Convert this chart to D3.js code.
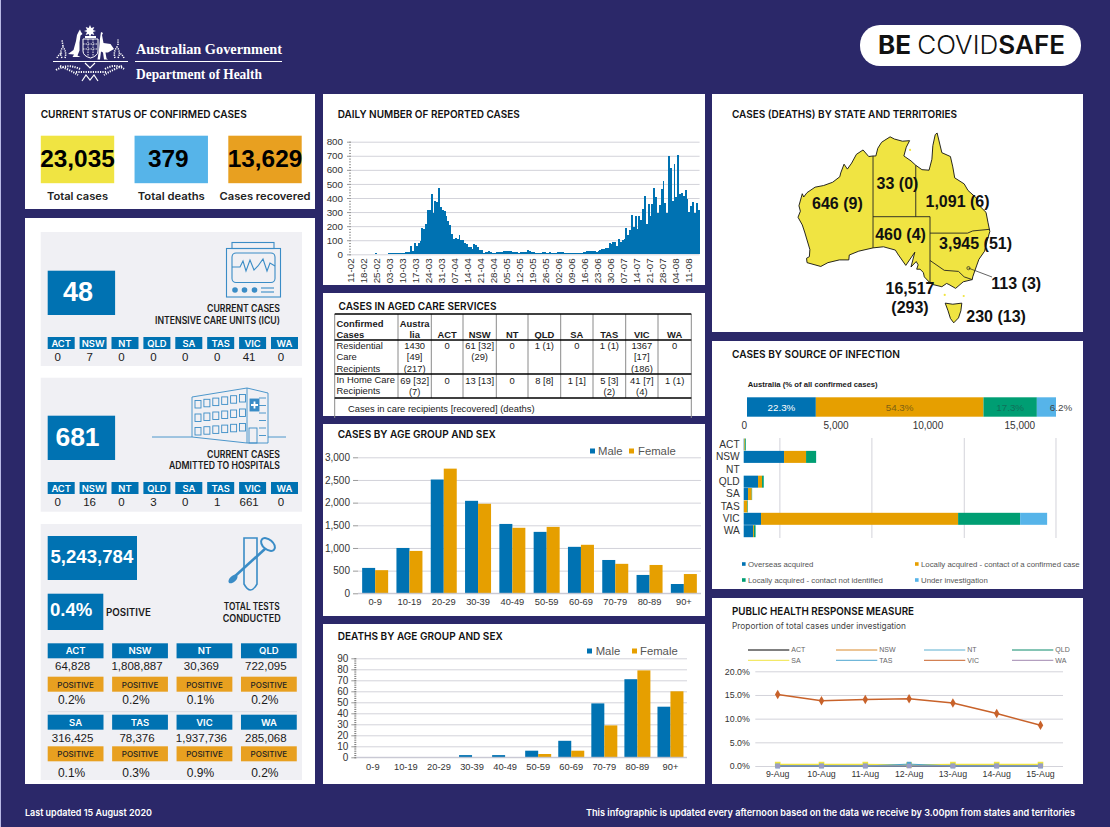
<!DOCTYPE html>
<html>
<head>
<meta charset="utf-8">
<title>COVID-19 infographic</title>
<script src="https://cdn.jsdelivr.net/npm/d3@7"></script>
<style>
html, body { margin: 0; padding: 0; background: #2b2869; }
svg { display: block; }
.axis path { display: none; }
.axis text { font-family: "Liberation Sans", Arial, sans-serif; fill: #333; }
.grid path { display: none; }
.grid line { stroke: #d3d3da; }
</style>
</head>
<body>
<div id="chart"></div>
<script>
"use strict";

// ---- data ----
var states = ["ACT", "NSW", "NT", "QLD", "SA", "TAS", "VIC", "WA"];

var statusLabels = ["Total cases", "Total deaths", "Cases recovered"];
var statusValues = ["23,035", "379", "13,629"];

var icuValues = [0, 7, 0, 0, 0, 0, 41, 0];
var hospitalValues = [0, 16, 0, 3, 0, 1, 661, 0];
var testValues = ["64,828", "1,808,887", "30,369", "722,095", "316,425", "78,376", "1,937,736", "285,068"];
var testPositive = ["0.2%", "0.2%", "0.1%", "0.2%", "0.1%", "0.3%", "0.9%", "0.2%"];

// daily reported cases, month by month, starting 11 Feb
var dailyFeb = [0, 0, 0, 0, 0, 0, 0, 0, 0, 0, 0, 0, 0, 8, 0, 0, 0, 1, 1];
var dailyMar = [3, 8, 8, 8, 9, 8, 8, 9, 10, 12, 14, 15, 16, 60, 20, 80, 62, 80, 95, 188, 180, 215, 318, 318, 430, 295, 380, 375, 472, 335, 315];
var dailyApr = [310, 270, 235, 205, 145, 112, 118, 110, 135, 103, 103, 80, 70, 50, 52, 35, 72, 65, 52, 30, 30, 8, 18, 18, 22, 18, 12, 10, 14, 14];
var dailyMay = [15, 18, 20, 22, 25, 25, 22, 18, 15, 14, 12, 14, 16, 14, 18, 30, 26, 18, 14, 10, 12, 8, 8, 16, 16, 12, 10, 14, 12, 10, 8];
var dailyJun = [18, 15, 13, 15, 12, 10, 10, 9, 8, 9, 8, 10, 12, 10, 16, 18, 22, 24, 22, 26, 22, 18, 24, 28, 36, 38, 42, 44, 80, 70];
var dailyJul = [85, 85, 60, 110, 90, 105, 110, 188, 140, 175, 280, 195, 272, 180, 272, 245, 325, 415, 215, 358, 275, 358, 470, 410, 295, 350, 465, 520, 365, 295, 695];
var dailyAug = [610, 380, 640, 410, 703, 430, 438, 415, 458, 390, 300, 345, 372, 295, 368, 315];

var agedHeader = ["Austra\nlia", "ACT", "NSW", "NT", "QLD", "SA", "TAS", "VIC", "WA"];
var agedResidential = ["1430\n[49]\n(217)", "0", "61 [32]\n(29)", "0", "1 (1)", "0", "1 (1)", "1367\n[17]\n(186)", "0"];
var agedHomeCare = ["69 [32]\n(7)", "0", "13 [13]", "0", "8 [8]", "1 [1]", "5 [3]\n(2)", "41 [7]\n(4)", "1 (1)"];

var ageGroups = ["0-9", "10-19", "20-29", "30-39", "40-49", "50-59", "60-69", "70-79", "80-89", "90+"];
var casesMale = [560, 1000, 2510, 2040, 1530, 1355, 1025, 735, 405, 205];
var casesFemale = [510, 935, 2750, 1975, 1445, 1465, 1070, 650, 625, 425];
var deathsMale = [0, 0, 0, 2, 2, 6, 15, 49, 71, 46];
var deathsFemale = [0, 0, 0, 0, 0, 3, 6, 29, 79, 60];

var sourceLabels = ["Overseas acquired", "Locally acquired - contact of a confirmed case", "Locally acquired - contact not identified", "Under investigation"];
var sourceShare = [22.3, 54.3, 17.3, 6.2];
var sourceOverseas = [20, 2196, 0, 780, 236, 10, 944, 508];
var sourceContact = [40, 1198, 0, 218, 200, 190, 10725, 50];
var sourceUnknown = [53, 545, 0, 93, 20, 30, 3376, 88];
var sourceInvestigation = [0, 6, 0, 0, 4, 0, 1470, 0];

var responseDays = ["9-Aug", "10-Aug", "11-Aug", "12-Aug", "13-Aug", "14-Aug", "15-Aug"];
var responseAct = [0, 0, 0, 0, 0, 0, 0];
var responseNsw = [0.1, 0.1, 0.1, 0.1, 0.1, 0.1, 0.1];
var responseNt = [0, 0, 0, 0, 0, 0, 0];
var responseQld = [0.1, 0.1, 0, 0.1, 0.1, 0, 0];
var responseSa = [0.3, 0.3, 0.3, 0.2, 0.3, 0.3, 0.3];
var responseTas = [0, 0, 0, 0.4, 0, 0, 0];
var responseVic = [15.1, 13.8, 14.05, 14.2, 13.3, 11.1, 8.6];
var responseWa = [0, 0, 0, 0, 0, 0, 0];

var mapLabels = [["646 (9)", 121.5, -24.6], ["33 (0)", 134.15, -21], ["1,091 (6)", 146.8, -24.2], ["460 (4)", 134.8, -30.3], ["3,945 (51)", 150.6, -31.9]];

// coastline, longitude / latitude
var mainland = [[142.5, -10.7], [143.5, -14.3], [145.3, -15], [145.8, -16.9], [146.2, -18.9], [148.2, -20], [149, -21.2], [150.8, -22.6], [150.8, -23.5], [152.8, -25.2], [153.2, -27], [153.6, -28.7], [153, -30.5], [152.5, -32.3], [151.3, -33.8], [150.8, -35], [150, -37], [149.9, -37.5], [148, -37.9], [146.4, -39.1], [145, -38.4], [144.5, -38.2], [143.5, -38.8], [141.6, -38.4], [140.9, -38], [139.8, -37], [139.6, -36.2], [138.9, -35.6], [138.2, -35.6], [138.5, -34.8], [138.1, -34.2], [137, -35.2], [137.8, -32.5], [135.9, -34.9], [134.2, -32.8], [133.7, -32.1], [131.2, -31.5], [129, -31.7], [126, -32.3], [124, -33], [123.9, -33.9], [121.9, -33.9], [119.5, -34.4], [118, -35.1], [115.1, -34.4], [115, -33.6], [115.6, -33.3], [115.7, -32], [114.6, -28.8], [114.1, -27.5], [113.2, -26.1], [113.7, -25], [113.4, -24], [114.1, -21.8], [114.4, -22.4], [115.1, -21.6], [116.8, -20.6], [118.6, -20.3], [120.5, -19.7], [122, -18.7], [122.2, -18], [122.9, -16.4], [123.6, -17.3], [124.5, -16.2], [125.5, -14.6], [126.9, -13.8], [128.1, -15], [129, -14.9], [129.6, -14.9], [130, -13.5], [130.8, -12.4], [131.5, -12], [132.6, -11.4], [133.5, -11.8], [135.2, -12.2], [136.7, -12.1], [136, -13.3], [135.5, -14.9], [137, -15.8], [138, -16.6], [139.3, -17.4], [140.8, -17.5], [141.4, -15.5], [141.6, -13], [142.1, -11], [142.5, -10.7]];
// Tasmania sits a little lower in the picture than the true latitude
var tasmania = [[144.2, -41.8], [145.8, -42], [147.7, -41.8], [147.5, -43.2], [147, -44.5], [146, -45.4], [145.3, -44.6], [144.8, -43.2], [144.2, -41.8]];
var borders = [
    [[129, -14.9], [129, -31.7]],
    [[129, -26], [141, -26], [141, -38.05]],
    [[138, -16.6], [138, -26]],
    [[141, -29], [148.9, -29], [150, -28.6], [153.6, -28.3]],
    [[141, -34], [144, -35.8], [147, -36], [148.2, -37], [149.9, -37.5]]
];
var islands = [[144.1, -40.3], [148.1, -40.5], [136.8, -13.8]];
var actSpot = [149.1, -35.4];

// ---- page ----
var navy = "#2b2869", blue = "#0072B2", orange = "#E69F00", green = "#009E73", sky = "#56B4E9", yellow = "#F0E442";
var chipOrange = "#E8A020", iconBlue = "#3a8cc6", panelGrey = "#f0f0f4";
var sans = '"Liberation Sans", Arial, sans-serif';
var heading = 'Inter, "Noto Sans", sans-serif';

var svg = d3.select("#chart").append("svg")
    .attr("width", 1110)
    .attr("height", 827);

svg.append("rect").attr("width", 1110).attr("height", 827).attr("fill", navy);
svg.append("rect").attr("width", 1).attr("height", 827).attr("fill", "#b9b9e6");

function box(x, y, w, h, fill) {
    return svg.append("rect").attr("x", x).attr("y", y).attr("width", w).attr("height", h).attr("fill", fill);
}

function label(x, y, str, size, opts) {
    opts = opts || {};
    var t = svg.append("text")
        .attr("x", x)
        .attr("y", y)
        .attr("font-family", opts.family || sans)
        .attr("font-size", size)
        .attr("font-weight", opts.weight || "normal")
        .attr("text-anchor", opts.anchor || "start")
        .attr("fill", opts.fill || "#1a1a1a")
        .text(str);
    if (opts.width) {
        t.attr("textLength", opts.width).attr("lengthAdjust", "spacingAndGlyphs");
    }
    return t;
}

//the panel headings, stretched to the width they have in the picture
function title(x, y, str, width) {
    label(x, y, str, 10.5, { family: heading, weight: 600, fill: "#111", width: width });
}

// white panels
[[25, 94, 290, 115], [25, 218, 290, 566], [323, 94, 382, 191], [323, 293, 382, 123], [323, 424, 382, 192], [323, 624, 382, 160], [712, 94, 371, 238], [712, 341, 371, 248], [712, 598, 371, 186]].forEach(function (p) {
    box(p[0], p[1], p[2], p[3], "#fff");
});

// ---- header ----
drawCrest(svg.append("g"));
label(136, 54, "Australian Government", 15.2, { family: '"Liberation Serif", serif', weight: "bold", fill: "#fff", width: 146 });
svg.append("line").attr("x1", 135).attr("x2", 282).attr("y1", 61.5).attr("y2", 61.5).attr("stroke", "#fff");
label(136, 79, "Department of Health", 14.4, { family: '"Liberation Serif", serif', weight: "bold", fill: "#fff", width: 126 });

svg.append("rect").attr("x", 860).attr("y", 25).attr("width", 221).attr("height", 41).attr("rx", 20).attr("fill", "#fff");
var badge = label(878, 54, "BE ", 25, { family: heading, weight: 700, fill: "#111" });
badge.append("tspan").attr("font-weight", 300).text("COVID");
badge.append("tspan").attr("font-weight", 600).text("SAFE");
badge.attr("textLength", 187).attr("lengthAdjust", "spacingAndGlyphs");

label(25, 816, "Last updated 15 August 2020", 9.5, { family: heading, weight: 600, fill: "#fff", width: 127 });
label(586, 816, "This infographic is updated every afternoon based on the data we receive by 3.00pm from states and territories", 9.5, { family: heading, weight: 600, fill: "#fff", width: 489 });

// ---- current status ----
title(40.7, 117.5, "CURRENT STATUS OF CONFIRMED CASES", 206);
var statusX = d3.scalePoint().domain(statusLabels).range([77.5, 265]);
var statusFill = [yellow, sky, chipOrange];
var statusWidths = [61, 67, 91];
statusLabels.forEach(function (name, i) {
    var cx = statusX(name);
    box(cx - 36.7, 135.7, 73.4, 47.5, statusFill[i]);
    label(i == 1 ? cx - 3 : cx, 167, statusValues[i], 24.4, { weight: "bold", anchor: "middle", fill: "#000" });
    label(cx, 199.5, name, 10.6, { family: heading, weight: 600, anchor: "middle", fill: "#222", width: statusWidths[i] });
});

// ---- left column ----
box(40.7, 232, 261.3, 134, panelGrey);
box(40.7, 377.7, 261.3, 134, panelGrey);
box(40.7, 524, 261.3, 256, panelGrey);

box(47.7, 270.7, 67.4, 44.3, blue);
label(78, 300.5, "48", 27, { weight: "bold", anchor: "middle", fill: "#fff" });
box(47.7, 415.7, 67.4, 44.3, blue);
label(77.5, 445.5, "681", 26.5, { weight: "bold", anchor: "middle", fill: "#fff" });

label(280, 312, "CURRENT CASES", 9.8, { family: heading, weight: 600, anchor: "end", width: 73 });
label(280, 323.5, "INTENSIVE CARE UNITS (ICU)", 9.8, { family: heading, weight: 600, anchor: "end", width: 125 });
label(280, 457.5, "CURRENT CASES", 9.8, { family: heading, weight: 600, anchor: "end", width: 73 });
label(280, 469, "ADMITTED TO HOSPITALS", 9.8, { family: heading, weight: 600, anchor: "end", width: 111 });

var chipX = d3.scaleBand().domain(states).range([47.7, 302.9]);

function stateChips(values, chipY, valueY) {
    states.forEach(function (s, i) {
        var x = chipX(s), w = 27;
        box(x, chipY, w, 12, blue);
        label(x + w / 2, chipY + 9.8, s, 9.4, { family: heading, weight: 600, anchor: "middle", fill: "#fff" });
        label(x + w / 2 - 3.5, valueY, values[i], 11.5, { anchor: "middle" });
    });
}
stateChips(icuValues, 337, 361);
stateChips(hospitalValues, 482, 505.5);

drawMonitor(svg.append("g"));
drawHospital(svg.append("g"));
drawSwab(svg.append("g"));

box(47.7, 536, 89.3, 44, blue);
label(50.5, 562.5, "5,243,784", 18.6, { weight: "bold", fill: "#fff" });
box(47.7, 593.7, 55.6, 36.3, blue);
label(50, 616, "0.4%", 18.6, { weight: "bold", fill: "#fff" });
label(106, 616, "POSITIVE", 9.8, { family: heading, weight: 600, width: 45 });
label(251.7, 610, "TOTAL TESTS", 9.8, { family: heading, weight: 600, anchor: "middle", width: 56 });
label(251.7, 621.5, "CONDUCTED", 9.8, { family: heading, weight: 600, anchor: "middle", width: 58 });

var testX = d3.scaleBand().domain([0, 1, 2, 3]).range([47.7, 305.4]);
var testRows = [[643.3, 670, 676.7, 704], [714.7, 742, 746.3, 776.7]];
states.forEach(function (s, i) {
    var row = testRows[Math.floor(i / 4)];
    var x = testX(i % 4), w = 55.8, cx = x + w / 2;
    box(x, row[0], w, 15, blue);
    label(cx, row[0] + 11, s, 9.5, { family: heading, weight: 600, anchor: "middle", fill: "#fff" });
    label(cx - 3, row[1], testValues[i], 11.5, { anchor: "middle" });
    box(x, row[2], w, 15, chipOrange);
    label(cx, row[2] + 10.8, "POSITIVE", 8, { family: heading, weight: 500, anchor: "middle", fill: "#222" });
    label(cx - 4, row[3], testPositive[i], 12, { anchor: "middle" });
});
svg.append("line").attr("x1", 47.7).attr("x2", 297).attr("y1", 711.7).attr("y2", 711.7).attr("stroke", "#dcdce2");

// ---- daily cases ----
title(337.7, 117.5, "DAILY NUMBER OF REPORTED CASES", 182);

var dailyValues = dailyFeb.concat(dailyMar, dailyApr, dailyMay, dailyJun, dailyJul, dailyAug);
var dailyDates = d3.timeDay.range(new Date(2020, 1, 11), new Date(2020, 7, 17));

var dailyXScale = d3.scaleBand().domain(dailyDates).range([351, 699.6]);
var dailyYScale = d3.scaleLinear().domain([0, 800]).range([254.3, 141.7]);

gridFor(svg, dailyYScale, d3.range(0, 801, 100), 351, 699.6);

svg.append("g").selectAll("rect")
    .data(dailyValues)
    .enter().append("rect")
    .attr("x", function (d, i) { return dailyXScale(dailyDates[i]); })
    .attr("y", function (d) { return dailyYScale(d); })
    .attr("width", dailyXScale.bandwidth())
    .attr("height", function (d) { return dailyYScale(0) - dailyYScale(d); })
    .attr("fill", blue)
    .attr("shape-rendering", "crispEdges");

//minor ticks first so the labelled ones land on top
svg.append("g").attr("transform", "translate(351,0)")
    .call(d3.axisLeft(dailyYScale).tickValues(d3.range(0, 801, 20)).tickSize(2).tickFormat(""))
    .call(function (g) { g.select("path").remove(); g.selectAll("line").attr("stroke", "#9a9a9a"); });
var dailyAxis = svg.append("g").attr("class", "axis").attr("transform", "translate(351,0)")
    .call(d3.axisLeft(dailyYScale).tickValues(d3.range(0, 801, 100)).tickSize(4).tickPadding(4));
dailyAxis.selectAll("line").attr("stroke", "#9a9a9a");
dailyAxis.selectAll("text").attr("font-size", 9.8);

var dayFormat = d3.timeFormat("%d-%m");
var dailyXAxis = svg.append("g").attr("class", "axis").attr("transform", "translate(0,254.3)")
    .call(d3.axisBottom(dailyXScale).tickValues(dailyDates.filter(function (d, i) { return i % 7 == 0; })).tickSize(0).tickFormat(dayFormat));
dailyXAxis.selectAll("text")
    .attr("font-size", 9.8)
    .attr("text-anchor", "end")
    .attr("transform", "rotate(-90)")
    .attr("x", -4)
    .attr("y", -1)
    .attr("dy", "0.32em");

// ---- aged care table ----
label(338.5, 309.5, "CASES IN AGED CARE SERVICES", 10.5, { family: heading, weight: 600, fill: "#111", width: 158 });

var columnEdges = [334.7, 398, 431.3, 463, 496.3, 528, 560.7, 593, 625.7, 658, 691.3];
columnEdges.forEach(function (x, i) {
    var outer = i == 0 || i == columnEdges.length - 1;
    svg.append("line").attr("x1", x).attr("x2", x).attr("y1", 314).attr("y2", outer ? 418 : 398).attr("stroke", "#8a8a8a").attr("stroke-width", 1);
});
[314, 340, 374, 398].forEach(function (y) {
    svg.append("line").attr("x1", 334.7).attr("x2", 691.3).attr("y1", y).attr("y2", y).attr("stroke", "#000").attr("stroke-width", 1.6);
});

function cellLines(x, y, str, opts) {
    str.split("\n").forEach(function (line, i) {
        label(x, y + i * 11.3, line, 9.4, opts);
    });
}
cellLines(336.5, 326.7, "Confirmed\nCases", { weight: "bold" });
cellLines(336.5, 349, "Residential\nCare\nRecipients");
cellLines(336.5, 383, "In Home Care\nRecipients");
agedHeader.forEach(function (h, i) {
    var cx = (columnEdges[i + 1] + columnEdges[i + 2]) / 2;
    if (i == 8) cx = (columnEdges[9] + columnEdges[10]) / 2;
    cellLines(cx, i == 0 ? 326.7 : 337.7, h, { weight: "bold", anchor: "middle" });
    cellLines(cx, 349, agedResidential[i], { anchor: "middle" });
    cellLines(cx, 384, agedHomeCare[i], { anchor: "middle" });
});
label(348, 411.5, "Cases in care recipients [recovered] (deaths)", 9.4, {});

// ---- age and sex bars ----
title(337.7, 437.7, "CASES BY AGE GROUP AND SEX", 158);
ageBars(casesMale, casesFemale, d3.scaleLinear().domain([0, 3000]).range([593.3, 457.3]), d3.range(0, 3001, 500), 358, 701, 606, d3.format(","));
sexLegend(590, 598, 629, 638, 451, 455);

title(337.7, 640, "DEATHS BY AGE GROUP AND SEX", 165);
var deathAxisY = d3.scaleLinear().domain([0, 90]).range([757.3, 658.3]);
ageBars(deathsMale, deathsFemale, deathAxisY, d3.range(0, 91, 10), 356.3, 687, 771.5, d3.format("d"));
svg.append("g").attr("transform", "translate(356.3,0)")
    .call(d3.axisLeft(deathAxisY).tickValues(d3.range(0, 91, 2)).tickSize(2).tickFormat(""))
    .call(function (g) { g.select("path").remove(); g.selectAll("line").attr("stroke", "#777"); });
sexLegend(587, 595.7, 632, 640, 651, 654.5);

function ageBars(male, female, y, ticks, left, right, labelY, fmt) {
    gridFor(svg, y, ticks, left, right);
    var x0 = d3.scaleBand().domain(ageGroups).range([left, right]);
    var x1 = d3.scaleBand().domain(["m", "f"]).range([0, 26]);
    var offset = (x0.bandwidth() - 26) / 2;
    [[male, "m", blue], [female, "f", orange]].forEach(function (s) {
        svg.append("g").selectAll("rect")
            .data(s[0])
            .enter().append("rect")
            .attr("x", function (d, i) { return x0(ageGroups[i]) + offset + x1(s[1]); })
            .attr("y", function (d) { return y(d); })
            .attr("width", x1.bandwidth())
            .attr("height", function (d) { return y(0) - y(d); })
            .attr("fill", s[2]);
    });
    var yAxis = svg.append("g").attr("class", "axis").attr("transform", "translate(" + left + ",0)")
        .call(d3.axisLeft(y).tickValues(ticks).tickSize(5).tickPadding(3).tickFormat(fmt));
    yAxis.selectAll("line").attr("stroke", "#999");
    yAxis.selectAll("text").attr("font-size", 10);
    var xAxis = svg.append("g").attr("class", "axis").attr("transform", "translate(0," + y(0) + ")")
        .call(d3.axisBottom(x0).tickSize(0).tickPadding(labelY - y(0) - 8));
    xAxis.selectAll("text").attr("font-size", 9.3);
    svg.append("line").attr("x1", left).attr("x2", right).attr("y1", y(0)).attr("y2", y(0)).attr("stroke", "#c4c4d0");
}

function sexLegend(mx, mt, fx, ft, sy, ty) {
    box(mx, sy - 2.5, 5, 5, blue);
    label(mt, ty, "Male", 11.3, { fill: "#555" });
    box(fx, sy - 2.5, 5, 5, orange);
    label(ft, ty, "Female", 11.3, { fill: "#555" });
}

function gridFor(parent, y, ticks, left, right) {
    parent.append("g").attr("class", "grid").attr("transform", "translate(" + left + ",0)")
        .call(d3.axisLeft(y).tickValues(ticks).tickSize(left - right).tickFormat(""));
}

// ---- map ----
title(732, 117.5, "CASES (DEATHS) BY STATE AND TERRITORIES", 225);

var lonScale = d3.scaleLinear().domain([113.2, 141]).range([798, 930]);
var latScale = d3.scaleLinear().domain([-10.7, -26]).range([133, 216.7]);
var mapProjection = d3.geoTransform({
    point: function (lon, lat) { this.stream.point(lonScale(lon), latScale(lat)); }
});
var mapPath = d3.geoPath(mapProjection);

[mainland, tasmania].forEach(function (ring) {
    svg.append("path")
        .datum({ type: "Polygon", coordinates: [ring] })
        .attr("d", mapPath)
        .attr("fill", yellow)
        .attr("stroke", "#111")
        .attr("stroke-width", 0.9)
        .attr("stroke-linejoin", "round");
});
borders.forEach(function (line) {
    svg.append("path")
        .datum({ type: "LineString", coordinates: line })
        .attr("d", mapPath)
        .attr("fill", "none")
        .attr("stroke", "#222")
        .attr("stroke-width", 0.9);
});
islands.forEach(function (p) {
    svg.append("circle").attr("cx", lonScale(p[0])).attr("cy", latScale(p[1])).attr("r", 1.1).attr("fill", yellow);
});
svg.append("circle").attr("cx", lonScale(actSpot[0])).attr("cy", latScale(actSpot[1])).attr("r", 1.6).attr("fill", "none").attr("stroke", "#222").attr("stroke-width", 0.7);
svg.append("line").attr("x1", lonScale(actSpot[0])).attr("y1", latScale(actSpot[1])).attr("x2", 992).attr("y2", 277).attr("stroke", "#222").attr("stroke-width", 0.7);

mapLabels.forEach(function (d) {
    label(lonScale(d[1]), latScale(d[2]), d[0], 16, { weight: "bold", anchor: "middle", fill: "#111" });
});
label(991.3, 289, "113 (3)", 16, { weight: "bold", fill: "#111" });
label(910, 294, "16,517", 16, { weight: "bold", anchor: "middle", fill: "#111" });
label(910, 313, "(293)", 16, { weight: "bold", anchor: "middle", fill: "#111" });
label(966.3, 321.7, "230 (13)", 16, { weight: "bold", fill: "#111" });

// ---- source of infection ----
title(732, 358, "CASES BY SOURCE OF INFECTION", 168);
label(747.7, 386.7, "Australia (% of all confirmed cases)", 8, { weight: "bold", width: 130 });

var shareScale = d3.scaleLinear().domain([0, d3.sum(sourceShare)]).range([747, 1056]);
var shareFill = [blue, orange, green, sky];
var shareText = ["#fff", "#7d5f14", "#11705a", "#444"];
var shareLeft = 0;
sourceShare.forEach(function (v, i) {
    box(shareScale(shareLeft), 397.3, shareScale(v) - shareScale(0), 19.4, shareFill[i]);
    var cx = i == 3 ? 1061 : shareScale(shareLeft + v / 2);
    label(cx, 410.5, v.toFixed(1) + "%", 9.8, { anchor: "middle", fill: shareText[i] });
    shareLeft += v;
});

var sourceX = d3.scaleLinear().domain([0, 15000]).range([743.7, 1019.3]);
var sourceY = d3.scaleBand().domain(states).range([438.5, 537.2]).paddingInner(0.03);

//the gridlines in the original sit off the labelled ticks
svg.append("g").attr("class", "grid").attr("transform", "translate(0,538)")
    .call(d3.axisBottom(sourceX).tickValues([1942, 6950, 11978, 16970]).tickSize(-100).tickFormat(""));

var sourceTop = svg.append("g").attr("class", "axis").attr("transform", "translate(0,419)")
    .call(d3.axisBottom(sourceX).tickValues([0, 5000, 10000, 15000]).tickSize(0).tickPadding(3).tickFormat(d3.format(",")));
sourceTop.selectAll("text").attr("font-size", 10);

var sourceRows = states.map(function (s, i) {
    return { state: s, a: sourceOverseas[i], b: sourceContact[i], c: sourceUnknown[i], d: sourceInvestigation[i] };
});
var stackedSource = d3.stack().keys(["a", "b", "c", "d"])(sourceRows);
stackedSource.forEach(function (layer, i) {
    svg.append("g").selectAll("rect")
        .data(layer)
        .enter().append("rect")
        .attr("x", function (d) { return sourceX(d[0]); })
        .attr("y", function (d) { return sourceY(d.data.state); })
        .attr("width", function (d) { return sourceX(d[1]) - sourceX(d[0]); })
        .attr("height", sourceY.bandwidth())
        .attr("fill", shareFill[i]);
});

var sourceLeft = svg.append("g").attr("class", "axis").attr("transform", "translate(743.7,0)")
    .call(d3.axisLeft(sourceY).tickSize(0).tickPadding(4));
sourceLeft.selectAll("text").attr("font-size", 10.2);
sourceLeft.select("path").remove();

var legendSpots = [[742, 566.7], [915, 566.7], [742, 582.7], [915, 582.7]];
sourceLabels.forEach(function (name, i) {
    box(legendSpots[i][0], legendSpots[i][1] - 4.5, 3.6, 3.6, shareFill[i]);
    label(legendSpots[i][0] + 6, legendSpots[i][1], name, 7.8, { fill: "#555" });
});

// ---- response measure ----
title(732, 615, "PUBLIC HEALTH RESPONSE MEASURE", 182);
label(732, 628.5, "Proportion of total cases under investigation", 9, { family: heading, fill: "#444", width: 174 });

var responseSeries = [
    ["ACT", responseAct, "#000", 1.5],
    ["NSW", responseNsw, "#d9892b", 1],
    ["NT", responseNt, "#5aaecf", 1],
    ["QLD", responseQld, "#0b8a6a", 1],
    ["SA", responseSa, "#F0E442", 1.5],
    ["TAS", responseTas, "#4da6d0", 1],
    ["VIC", responseVic, "#c8622a", 1.5],
    ["WA", responseWa, "#a088b0", 1]
];

var respX = d3.scaleBand().domain(responseDays).range([755.8, 1062.4]);
var respY = d3.scaleLinear().domain([0, 20]).range([766, 671.3]);

gridFor(svg, respY, d3.range(0, 21, 5), 755.3, 1063);

var respLeft = svg.append("g").attr("class", "axis").attr("transform", "translate(755.3,0)")
    .call(d3.axisLeft(respY).tickValues(d3.range(0, 21, 5)).tickSize(0).tickPadding(5.5).tickFormat(function (d) { return d.toFixed(1) + "%"; }));
respLeft.selectAll("text").attr("font-size", 8.8);
respLeft.select("path").remove();
var respBottom = svg.append("g").attr("class", "axis").attr("transform", "translate(0,766)")
    .call(d3.axisBottom(respX).tickSize(0).tickPadding(5));
respBottom.selectAll("text").attr("font-size", 8.8);
respBottom.select("path").remove();

var respLine = d3.line()
    .x(function (d, i) { return respX(responseDays[i]) + respX.bandwidth() / 2; })
    .y(function (d) { return respY(d); });

function markerSize(name) {
    if (name == "VIC") return 26;
    if (name == "SA") return 32;
    if (name == "WA" || name == "TAS") return 22;
    return 6;
}

var drawOrder = [0, 1, 3, 4, 2, 5, 7, 6];
drawOrder.forEach(function (k) {
    var s = responseSeries[k];
    svg.append("path").attr("d", respLine(s[1])).attr("fill", "none").attr("stroke", s[2]).attr("stroke-width", s[3]);
    svg.append("g").selectAll("path")
        .data(s[1])
        .enter().append("path")
        .attr("transform", function (d, i) { return "translate(" + (respX(responseDays[i]) + respX.bandwidth() / 2) + "," + respY(d) + ")"; })
        .attr("d", d3.symbol().type(s[0] == "VIC" ? d3.symbolDiamond : d3.symbolSquare).size(markerSize(s[0])))
        .attr("fill", s[0] == "WA" ? "#9c9cc4" : s[2]);
});

var respLegendX = d3.scaleBand().domain([0, 1, 2, 3]).range([748, 1100]);
responseSeries.forEach(function (s, i) {
    var x = respLegendX(i % 4), y = i < 4 ? 650 : 660.3;
    svg.append("line").attr("x1", x).attr("x2", x + 41.3).attr("y1", y).attr("y2", y).attr("stroke", s[2]);
    label(x + 43.3, y + 2.4, s[0], 7, { fill: "#666" });
});

// ---- drawn pictures ----
function drawCrest(g) {
    g.attr("fill", "#fff").attr("stroke", "#fff");
    g.append("path").attr("d", "M90 25 l1.3 3 3-1 -1.3 3 3 1 -3 1 1.3 3 -3-1 -1.3 3 -1.3-3 -3 1 1.3-3 -3-1 3-1 -1.3-3 3 1z").attr("stroke", "none");
    g.append("rect").attr("x", 85).attr("y", 36).attr("width", 11).attr("height", 2).attr("stroke", "none");
    // shield
    g.append("path").attr("d", "M83 39 h15 v12 q0 5 -7.5 7 q-7.5 -2 -7.5 -7z").attr("fill", "none").attr("stroke-width", 1);
    g.append("path").attr("d", "M83 44 h15 M83 49 h15 M88 39 v17 M93 39 v17").attr("fill", "none").attr("stroke-width", 0.9).attr("stroke-dasharray", "1.5 1");
    // kangaroo
    g.append("path").attr("d", "M79 31 l1 -1.5 1 2.5 1.5 2 -2 1.5 -1 7 0 8 -2 5 3 1.5 -8 0 1.5 -2.5 -6 -0.5 5.5 -4 2.5 -9 1 -6z").attr("stroke", "none");
    // emu
    g.append("path").attr("d", "M101 32 l2 1 -1 2 1.5 8 7 1 3.5 5 -6 3.5 -2.5 0 1 6 1.5 1 -4 0 -1 -7 -2 -1 -1 8 -2.5 0 1.5 -10 1 -11z").attr("stroke", "none");
    // base line, scroll and wattle sprays
    g.append("line").attr("x1", 53).attr("x2", 128).attr("y1", 61.5).attr("y2", 61.5).attr("stroke-width", 1);
    g.append("path").attr("d", "M56 70 q12 -7 24 -1 M76 72 h30 M105 69 q10 -6 19 0 M60 66 q10 4 18 9 M122 66 q-10 4 -18 9").attr("fill", "none").attr("stroke-width", 2).attr("stroke-dasharray", "1.2 1.2");
    g.append("path").attr("d", "M62 58 q-3 -6 1 -11 q4 5 2 11 M118 58 q3 -6 -1 -11 q-4 5 -2 11 M63 46 l-1 -6 M118 45 l0 -6 M57 58 q2 -4 5 -5 M124 58 q-2 -4 -5 -5").attr("fill", "none").attr("stroke-width", 1.5).attr("stroke-dasharray", "1.2 1");
    g.append("path").attr("d", "M82 81 l4 -6 4 5 4 -5 4 6 M85 63 l5 5 5 -5").attr("fill", "none").attr("stroke-width", 1.2);
}

function drawMonitor(g) {
    g.attr("fill", "none").attr("stroke", iconBlue).attr("stroke-width", 1.1);
    g.append("rect").attr("x", 232).attr("y", 242.5).attr("width", 42).attr("height", 6);
    g.append("rect").attr("x", 226.5).attr("y", 248.5).attr("width", 54).attr("height", 48.5);
    g.append("rect").attr("x", 232).attr("y", 253).attr("width", 43).attr("height", 29.5).attr("rx", 4);
    g.append("polyline").attr("points", "232,267 240,267 243,261 246,271 250,260 254,270 258,266 263,259 267,271 270,263 275,266");
    [235, 244.5, 254.5].forEach(function (x) {
        g.append("circle").attr("cx", x).attr("cy", 290).attr("r", 2.8).attr("fill", iconBlue).attr("stroke", "none");
    });
    g.append("line").attr("x1", 261).attr("x2", 274).attr("y1", 288).attr("y2", 288);
    g.append("line").attr("x1", 261).attr("x2", 274).attr("y1", 292).attr("y2", 292);
}

function drawHospital(g) {
    g.attr("fill", "none").attr("stroke", iconBlue).attr("stroke-width", 0.9);
    g.append("path").attr("d", "M152 437 H192 M268 437 H286");
    g.append("path").attr("d", "M192 437 V397 L247 388 L268 393 V443 L247 443 V388 M192 437 L247 443");
    d3.range(0, 3).forEach(function (r) {
        d3.range(0, 6).forEach(function (c) {
            g.append("rect")
                .attr("x", 195 + c * 8.9)
                .attr("y", 400.5 + r * 13.5 - c * 1.2 + r * c * 0.2)
                .attr("width", 6)
                .attr("height", 7.5);
        });
    });
    d3.range(0, 6).forEach(function (c) {
        g.append("line").attr("x1", 259).attr("x2", 266).attr("y1", 398 + c * 7.5).attr("y2", 398 + c * 7.5);
    });
    g.append("rect").attr("x", 250).attr("y", 399).attr("width", 9).attr("height", 12).attr("fill", iconBlue);
    g.append("path").attr("d", "M254.5 401.5 v7 M251 405 h7").attr("stroke", "#fff").attr("stroke-width", 1.8);
    g.append("rect").attr("x", 249).attr("y", 428).attr("width", 8).attr("height", 15);
}

function drawSwab(g) {
    g.attr("fill", "none").attr("stroke", iconBlue);
    g.append("path").attr("d", "M244 538 V584 q6.5 12 13 0 V538 Z").attr("stroke-width", 1.6);
    g.append("line").attr("x1", 233).attr("y1", 578).attr("x2", 266).attr("y2", 548).attr("stroke-width", 2.6);
    g.append("ellipse").attr("cx", 233).attr("cy", 579).attr("rx", 5.5).attr("ry", 3).attr("fill", iconBlue).attr("stroke", "none").attr("transform", "rotate(-42 233 579)");
    g.append("ellipse").attr("cx", 268).attr("cy", 544.5).attr("rx", 8).attr("ry", 5).attr("fill", panelGrey).attr("stroke-width", 2).attr("transform", "rotate(40 268 544.5)");
}
</script>
</body>
</html>
